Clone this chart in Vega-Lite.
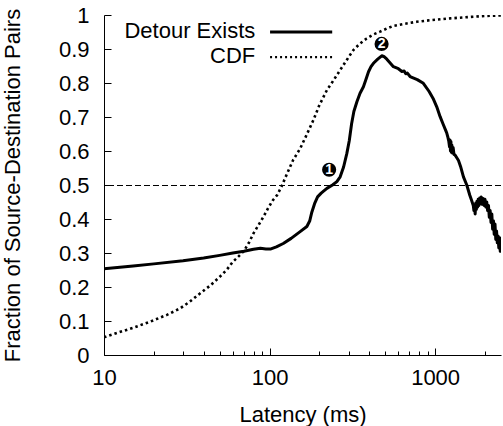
{
  "$schema": "https://vega.github.io/schema/vega-lite/v6.json",
  "width": 397,
  "height": 340,
  "autosize": "none",
  "padding": {"left": 104, "top": 15, "right": 2, "bottom": 71},
  "background": "white",
  "config": {
    "view": {"stroke": null},
    "font": "Liberation Sans",
    "axis": {
      "domainColor": "black",
      "domainWidth": 1,
      "tickColor": "black",
      "tickWidth": 1,
      "labelColor": "black",
      "labelFont": "Liberation Sans",
      "labelFontSize": 22,
      "labelOverlap": false,
      "labelFlush": false,
      "titleFont": "Liberation Sans",
      "titleFontSize": 22,
      "titleFontWeight": "normal",
      "titleColor": "black",
      "grid": false
    }
  },
  "datasets": {
    "detour": [
      {"latency": 10, "fraction": 0.254},
      {"latency": 15, "fraction": 0.262},
      {"latency": 20, "fraction": 0.268},
      {"latency": 30, "fraction": 0.277},
      {"latency": 40, "fraction": 0.285},
      {"latency": 50, "fraction": 0.293},
      {"latency": 60, "fraction": 0.3},
      {"latency": 70, "fraction": 0.305},
      {"latency": 80, "fraction": 0.311},
      {"latency": 88, "fraction": 0.314},
      {"latency": 95, "fraction": 0.312},
      {"latency": 102, "fraction": 0.312},
      {"latency": 110, "fraction": 0.318},
      {"latency": 121, "fraction": 0.328},
      {"latency": 135, "fraction": 0.343},
      {"latency": 153, "fraction": 0.363},
      {"latency": 168, "fraction": 0.378},
      {"latency": 175, "fraction": 0.395},
      {"latency": 180, "fraction": 0.42},
      {"latency": 187, "fraction": 0.445},
      {"latency": 195, "fraction": 0.465},
      {"latency": 205, "fraction": 0.476},
      {"latency": 222, "fraction": 0.49},
      {"latency": 240, "fraction": 0.5},
      {"latency": 255, "fraction": 0.51},
      {"latency": 267, "fraction": 0.524},
      {"latency": 280, "fraction": 0.553},
      {"latency": 293, "fraction": 0.593},
      {"latency": 303, "fraction": 0.63},
      {"latency": 313, "fraction": 0.68},
      {"latency": 323, "fraction": 0.716},
      {"latency": 337, "fraction": 0.745},
      {"latency": 352, "fraction": 0.77},
      {"latency": 369, "fraction": 0.789},
      {"latency": 382, "fraction": 0.81},
      {"latency": 396, "fraction": 0.833},
      {"latency": 410, "fraction": 0.848},
      {"latency": 424, "fraction": 0.858},
      {"latency": 450, "fraction": 0.87},
      {"latency": 476, "fraction": 0.88},
      {"latency": 490, "fraction": 0.878},
      {"latency": 511, "fraction": 0.87},
      {"latency": 560, "fraction": 0.848},
      {"latency": 600, "fraction": 0.842},
      {"latency": 630, "fraction": 0.834},
      {"latency": 650, "fraction": 0.835},
      {"latency": 665, "fraction": 0.827},
      {"latency": 680, "fraction": 0.829},
      {"latency": 706, "fraction": 0.819},
      {"latency": 780, "fraction": 0.81},
      {"latency": 849, "fraction": 0.799},
      {"latency": 920, "fraction": 0.775},
      {"latency": 978, "fraction": 0.752},
      {"latency": 1023, "fraction": 0.73},
      {"latency": 1072, "fraction": 0.701},
      {"latency": 1120, "fraction": 0.678},
      {"latency": 1160, "fraction": 0.66},
      {"latency": 1177, "fraction": 0.652},
      {"latency": 1195, "fraction": 0.64},
      {"latency": 1210, "fraction": 0.628},
      {"latency": 1222, "fraction": 0.612},
      {"latency": 1230, "fraction": 0.632},
      {"latency": 1238, "fraction": 0.6},
      {"latency": 1246, "fraction": 0.628},
      {"latency": 1254, "fraction": 0.596},
      {"latency": 1262, "fraction": 0.618},
      {"latency": 1272, "fraction": 0.594},
      {"latency": 1285, "fraction": 0.61},
      {"latency": 1300, "fraction": 0.59},
      {"latency": 1320, "fraction": 0.588},
      {"latency": 1340, "fraction": 0.583},
      {"latency": 1384, "fraction": 0.572},
      {"latency": 1430, "fraction": 0.552},
      {"latency": 1483, "fraction": 0.524},
      {"latency": 1553, "fraction": 0.5},
      {"latency": 1620, "fraction": 0.47},
      {"latency": 1660, "fraction": 0.455},
      {"latency": 1700, "fraction": 0.44},
      {"latency": 1715, "fraction": 0.425},
      {"latency": 1730, "fraction": 0.44},
      {"latency": 1745, "fraction": 0.415},
      {"latency": 1760, "fraction": 0.447},
      {"latency": 1775, "fraction": 0.428},
      {"latency": 1790, "fraction": 0.452},
      {"latency": 1805, "fraction": 0.435},
      {"latency": 1820, "fraction": 0.458},
      {"latency": 1840, "fraction": 0.44},
      {"latency": 1860, "fraction": 0.462},
      {"latency": 1880, "fraction": 0.445},
      {"latency": 1900, "fraction": 0.465},
      {"latency": 1925, "fraction": 0.443},
      {"latency": 1950, "fraction": 0.46},
      {"latency": 1975, "fraction": 0.44},
      {"latency": 2000, "fraction": 0.458},
      {"latency": 2025, "fraction": 0.435},
      {"latency": 2050, "fraction": 0.45},
      {"latency": 2075, "fraction": 0.425},
      {"latency": 2100, "fraction": 0.44},
      {"latency": 2125, "fraction": 0.405},
      {"latency": 2150, "fraction": 0.425},
      {"latency": 2175, "fraction": 0.39},
      {"latency": 2200, "fraction": 0.415},
      {"latency": 2225, "fraction": 0.37},
      {"latency": 2250, "fraction": 0.395},
      {"latency": 2275, "fraction": 0.355},
      {"latency": 2300, "fraction": 0.385},
      {"latency": 2325, "fraction": 0.34},
      {"latency": 2350, "fraction": 0.365},
      {"latency": 2375, "fraction": 0.33},
      {"latency": 2400, "fraction": 0.35},
      {"latency": 2425, "fraction": 0.315},
      {"latency": 2450, "fraction": 0.345},
      {"latency": 2475, "fraction": 0.305},
      {"latency": 2500, "fraction": 0.33}
    ],
    "cdf": [
      {"latency": 10, "fraction": 0.052},
      {"latency": 12, "fraction": 0.065},
      {"latency": 15, "fraction": 0.08},
      {"latency": 19, "fraction": 0.098},
      {"latency": 24, "fraction": 0.118},
      {"latency": 28.8, "fraction": 0.137},
      {"latency": 33, "fraction": 0.157},
      {"latency": 38, "fraction": 0.181},
      {"latency": 44, "fraction": 0.205},
      {"latency": 50, "fraction": 0.23},
      {"latency": 55, "fraction": 0.25},
      {"latency": 60, "fraction": 0.274},
      {"latency": 65, "fraction": 0.29},
      {"latency": 70, "fraction": 0.306},
      {"latency": 75, "fraction": 0.33},
      {"latency": 80, "fraction": 0.358},
      {"latency": 86, "fraction": 0.383},
      {"latency": 92, "fraction": 0.407},
      {"latency": 98, "fraction": 0.432},
      {"latency": 105, "fraction": 0.456},
      {"latency": 111, "fraction": 0.47},
      {"latency": 118, "fraction": 0.495},
      {"latency": 128, "fraction": 0.535},
      {"latency": 139, "fraction": 0.574},
      {"latency": 153, "fraction": 0.607},
      {"latency": 164, "fraction": 0.638},
      {"latency": 184, "fraction": 0.691},
      {"latency": 200, "fraction": 0.735},
      {"latency": 222, "fraction": 0.779},
      {"latency": 245, "fraction": 0.81},
      {"latency": 267, "fraction": 0.838},
      {"latency": 290, "fraction": 0.865},
      {"latency": 321, "fraction": 0.897},
      {"latency": 350, "fraction": 0.915},
      {"latency": 386, "fraction": 0.931},
      {"latency": 425, "fraction": 0.943},
      {"latency": 465, "fraction": 0.951},
      {"latency": 510, "fraction": 0.96},
      {"latency": 560, "fraction": 0.968},
      {"latency": 650, "fraction": 0.974},
      {"latency": 774, "fraction": 0.98},
      {"latency": 950, "fraction": 0.985},
      {"latency": 1233, "fraction": 0.99},
      {"latency": 1600, "fraction": 0.994},
      {"latency": 2000, "fraction": 0.997},
      {"latency": 2500, "fraction": 0.999}
    ],
    "markers": [
      {"latency": 229, "fraction": 0.545, "label": "1"},
      {"latency": 475, "fraction": 0.915, "label": "2"}
    ],
    "legend": [
      {"series": "Detour Exists", "order": 1},
      {"series": "CDF", "order": 2}
    ]
  },
  "layer": [
    {
      "data": {"name": "detour"},
      "mark": {"type": "line", "color": "black", "strokeWidth": 3, "strokeJoin": "round", "clip": true},
      "encoding": {
        "x": {
          "field": "latency",
          "type": "quantitative",
          "scale": {"type": "log", "domain": [10, 2500], "nice": false},
          "axis": {
            "title": "Latency (ms)",
            "values": [10, 20, 30, 40, 50, 60, 70, 80, 90, 100, 200, 300, 400, 500, 600, 700, 800, 900, 1000, 2000],
            "format": "d",
            "labelExpr": "indexof([10, 100, 1000], datum.value) >= 0 ? datum.label : ''",
            "tickSize": {"condition": {"test": "indexof([10, 100, 1000], datum.value) >= 0", "value": -7}, "value": -4},
            "labelPadding": 19,
            "titlePadding": 13
          }
        },
        "y": {
          "field": "fraction",
          "type": "quantitative",
          "scale": {"domain": [0, 1], "nice": false},
          "axis": {
            "title": "Fraction of Source-Destination Pairs",
            "values": [0, 0.1, 0.2, 0.3, 0.4, 0.5, 0.6, 0.7, 0.8, 0.9, 1],
            "format": "~g",
            "tickSize": -7,
            "labelPadding": 22,
            "titlePadding": 34
          }
        },
        "order": {"field": "latency", "type": "quantitative"}
      }
    },
    {
      "data": {"name": "cdf"},
      "mark": {"type": "line", "color": "black", "strokeWidth": 2.6, "strokeDash": [2.5, 3], "clip": true},
      "encoding": {
        "x": {"field": "latency", "type": "quantitative", "axis": {"title": "Latency (ms)", "values": [10, 20, 30, 40, 50, 60, 70, 80, 90, 100, 200, 300, 400, 500, 600, 700, 800, 900, 1000, 2000], "format": "d", "labelExpr": "indexof([10, 100, 1000], datum.value) >= 0 ? datum.label : ''", "tickSize": {"condition": {"test": "indexof([10, 100, 1000], datum.value) >= 0", "value": -7}, "value": -4}, "labelPadding": 19, "titlePadding": 13}},
        "y": {"field": "fraction", "type": "quantitative", "axis": {"title": "Fraction of Source-Destination Pairs", "values": [0, 0.1, 0.2, 0.3, 0.4, 0.5, 0.6, 0.7, 0.8, 0.9, 1], "format": "~g", "tickSize": -7, "labelPadding": 22, "titlePadding": 34}},
        "order": {"field": "latency", "type": "quantitative"}
      }
    },
    {
      "data": {"name": "legend"},
      "transform": [{"filter": "datum.order == 1"}],
      "mark": {"type": "rule", "color": "black", "strokeWidth": 1, "strokeDash": [6, 3], "yOffset": 0.5},
      "encoding": {
        "y": {"datum": 0.5, "type": "quantitative", "axis": {"title": "Fraction of Source-Destination Pairs", "values": [0, 0.1, 0.2, 0.3, 0.4, 0.5, 0.6, 0.7, 0.8, 0.9, 1], "format": "~g", "tickSize": -7, "labelPadding": 22, "titlePadding": 34}}
      }
    },
    {
      "data": {"name": "markers"},
      "mark": {"type": "point", "shape": "circle", "filled": true, "color": "black", "opacity": 1, "size": 200},
      "encoding": {
        "x": {"field": "latency", "type": "quantitative", "axis": {"title": "Latency (ms)", "values": [10, 20, 30, 40, 50, 60, 70, 80, 90, 100, 200, 300, 400, 500, 600, 700, 800, 900, 1000, 2000], "format": "d", "labelExpr": "indexof([10, 100, 1000], datum.value) >= 0 ? datum.label : ''", "tickSize": {"condition": {"test": "indexof([10, 100, 1000], datum.value) >= 0", "value": -7}, "value": -4}, "labelPadding": 19, "titlePadding": 13}},
        "y": {"field": "fraction", "type": "quantitative", "axis": {"title": "Fraction of Source-Destination Pairs", "values": [0, 0.1, 0.2, 0.3, 0.4, 0.5, 0.6, 0.7, 0.8, 0.9, 1], "format": "~g", "tickSize": -7, "labelPadding": 22, "titlePadding": 34}}
      }
    },
    {
      "data": {"name": "markers"},
      "mark": {"type": "text", "color": "white", "fontSize": 14, "fontWeight": "bold", "font": "Liberation Sans", "baseline": "middle", "align": "center", "dy": 0.5},
      "encoding": {
        "x": {"field": "latency", "type": "quantitative", "axis": {"title": "Latency (ms)", "values": [10, 20, 30, 40, 50, 60, 70, 80, 90, 100, 200, 300, 400, 500, 600, 700, 800, 900, 1000, 2000], "format": "d", "labelExpr": "indexof([10, 100, 1000], datum.value) >= 0 ? datum.label : ''", "tickSize": {"condition": {"test": "indexof([10, 100, 1000], datum.value) >= 0", "value": -7}, "value": -4}, "labelPadding": 19, "titlePadding": 13}},
        "y": {"field": "fraction", "type": "quantitative", "axis": {"title": "Fraction of Source-Destination Pairs", "values": [0, 0.1, 0.2, 0.3, 0.4, 0.5, 0.6, 0.7, 0.8, 0.9, 1], "format": "~g", "tickSize": -7, "labelPadding": 22, "titlePadding": 34}},
        "text": {"field": "label"}
      }
    },
    {
      "data": {"name": "legend"},
      "transform": [{"filter": "datum.order == 1"}],
      "mark": {"type": "text", "color": "black", "fontSize": 22, "font": "Liberation Sans", "align": "right", "baseline": "middle"},
      "encoding": {
        "x": {"datum": 82, "type": "quantitative", "axis": {"title": "Latency (ms)", "values": [10, 20, 30, 40, 50, 60, 70, 80, 90, 100, 200, 300, 400, 500, 600, 700, 800, 900, 1000, 2000], "format": "d", "labelExpr": "indexof([10, 100, 1000], datum.value) >= 0 ? datum.label : ''", "tickSize": {"condition": {"test": "indexof([10, 100, 1000], datum.value) >= 0", "value": -7}, "value": -4}, "labelPadding": 19, "titlePadding": 13}},
        "y": {"datum": 0.953, "type": "quantitative", "axis": {"title": "Fraction of Source-Destination Pairs", "values": [0, 0.1, 0.2, 0.3, 0.4, 0.5, 0.6, 0.7, 0.8, 0.9, 1], "format": "~g", "tickSize": -7, "labelPadding": 22, "titlePadding": 34}},
        "text": {"field": "series"}
      }
    },
    {
      "data": {"name": "legend"},
      "transform": [{"filter": "datum.order == 2"}],
      "mark": {"type": "text", "color": "black", "fontSize": 22, "font": "Liberation Sans", "align": "right", "baseline": "middle"},
      "encoding": {
        "x": {"datum": 82, "type": "quantitative", "axis": {"title": "Latency (ms)", "values": [10, 20, 30, 40, 50, 60, 70, 80, 90, 100, 200, 300, 400, 500, 600, 700, 800, 900, 1000, 2000], "format": "d", "labelExpr": "indexof([10, 100, 1000], datum.value) >= 0 ? datum.label : ''", "tickSize": {"condition": {"test": "indexof([10, 100, 1000], datum.value) >= 0", "value": -7}, "value": -4}, "labelPadding": 19, "titlePadding": 13}},
        "y": {"datum": 0.879, "type": "quantitative", "axis": {"title": "Fraction of Source-Destination Pairs", "values": [0, 0.1, 0.2, 0.3, 0.4, 0.5, 0.6, 0.7, 0.8, 0.9, 1], "format": "~g", "tickSize": -7, "labelPadding": 22, "titlePadding": 34}},
        "text": {"field": "series"}
      }
    },
    {
      "data": {"name": "legend"},
      "transform": [{"filter": "datum.order == 1"}],
      "mark": {"type": "rule", "color": "black", "strokeWidth": 3},
      "encoding": {
        "x": {"datum": 100.7, "type": "quantitative", "axis": {"title": "Latency (ms)", "values": [10, 20, 30, 40, 50, 60, 70, 80, 90, 100, 200, 300, 400, 500, 600, 700, 800, 900, 1000, 2000], "format": "d", "labelExpr": "indexof([10, 100, 1000], datum.value) >= 0 ? datum.label : ''", "tickSize": {"condition": {"test": "indexof([10, 100, 1000], datum.value) >= 0", "value": -7}, "value": -4}, "labelPadding": 19, "titlePadding": 13}},
        "x2": {"datum": 239},
        "y": {"datum": 0.95, "type": "quantitative", "axis": {"title": "Fraction of Source-Destination Pairs", "values": [0, 0.1, 0.2, 0.3, 0.4, 0.5, 0.6, 0.7, 0.8, 0.9, 1], "format": "~g", "tickSize": -7, "labelPadding": 22, "titlePadding": 34}}
      }
    },
    {
      "data": {"name": "legend"},
      "transform": [{"filter": "datum.order == 2"}],
      "mark": {"type": "rule", "color": "black", "strokeWidth": 2.2, "strokeDash": [2, 3]},
      "encoding": {
        "x": {"datum": 100.7, "type": "quantitative", "axis": {"title": "Latency (ms)", "values": [10, 20, 30, 40, 50, 60, 70, 80, 90, 100, 200, 300, 400, 500, 600, 700, 800, 900, 1000, 2000], "format": "d", "labelExpr": "indexof([10, 100, 1000], datum.value) >= 0 ? datum.label : ''", "tickSize": {"condition": {"test": "indexof([10, 100, 1000], datum.value) >= 0", "value": -7}, "value": -4}, "labelPadding": 19, "titlePadding": 13}},
        "x2": {"datum": 239},
        "y": {"datum": 0.876, "type": "quantitative", "axis": {"title": "Fraction of Source-Destination Pairs", "values": [0, 0.1, 0.2, 0.3, 0.4, 0.5, 0.6, 0.7, 0.8, 0.9, 1], "format": "~g", "tickSize": -7, "labelPadding": 22, "titlePadding": 34}}
      }
    }
  ]
}
